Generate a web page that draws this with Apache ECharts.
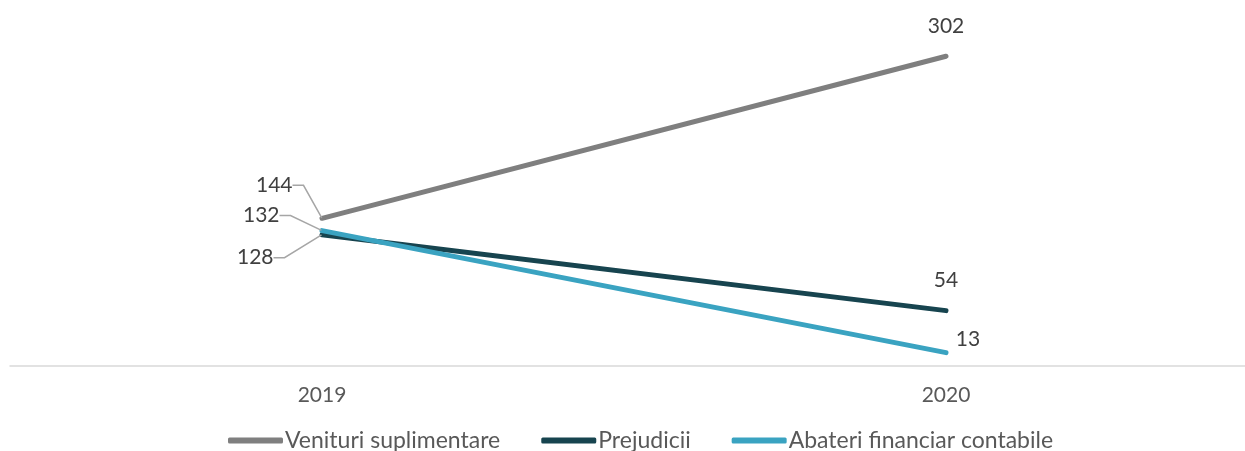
<!DOCTYPE html>
<html><head><meta charset="utf-8">
<script src="https://cdn.jsdelivr.net/npm/echarts@6/dist/echarts.min.js"></script>
<style>html,body{margin:0;padding:0;background:#fff}#c{width:1245px;height:451px}</style>
</head><body><div id="c"></div>
<script>
const categories = ['2019', '2020'];
const venituri = [144, 302];
const prejudicii = [128, 54];
const abateri = [132, 13];
const seriesNames = ['Venituri suplimentare', 'Prejudicii', 'Abateri financiar contabile'];
const colors = ['#7f7f7f', '#17444f', '#3aa3c1'];

const FONT = 'Lato';
// label offsets per series per point [dx, dy]
const offsets = [
  [[-24, -33], [0, 0]],
  [[-43, 23], [0, 0]],
  [[-37, -15], [22, 17]]
];
function mk(name, data, idx) {
  return {
    name: name, type: 'line',
    symbol: 'circle', symbolSize: 1, showSymbol: true,
    lineStyle: { width: 5, color: colors[idx], cap: 'round' },
    itemStyle: { color: colors[idx] },
    z: idx === 0 ? 2 : (idx === 1 ? 3 : 4),
    label: { show: true, color: '#404040', fontFamily: FONT, fontSize: 21 },
    labelLine: { show: false },
    data: data.map((v, i) => ({
      value: v,
      label: { position: i === 0 ? 'left' : 'top', distance: i === 0 ? 5 : 19 },
      labelLine: { show: i === 0, length2: 11, lineStyle: { color: '#a6a6a6', width: 1.5 } }
    })),
    labelLayout: function (p) {
      const o = offsets[idx][p.dataIndex];
      return { dx: o[0], dy: o[1] };
    }
  };
}
const chart = echarts.init(document.getElementById('c'), null, { renderer: 'canvas' });
chart.setOption({
  animation: false,
  color: colors,
  grid: { left: 10, width: 1248, top: 7, bottom: 85, containLabel: false, outerBoundsMode: 'none' },
  xAxis: {
    type: 'category', data: categories, boundaryGap: true,
    axisLine: { lineStyle: { color: '#d9d9d9', width: 1.5 } },
    axisTick: { show: false },
    axisLabel: { color: '#595959', fontFamily: FONT, fontSize: 21, margin: 19 }
  },
  yAxis: { type: 'value', min: 0, max: 350, show: false, splitLine: { show: false } },
  legend: {
    left: 223, top: 424, itemWidth: 55, itemHeight: 6, itemGap: 41,
    icon: 'roundRect',
    textStyle: { color: '#595959', fontFamily: FONT, fontSize: 23, padding: [0, 0, 0, -3] },
    data: seriesNames
  },
  series: [mk(seriesNames[0], venituri, 0), mk(seriesNames[1], prejudicii, 1), mk(seriesNames[2], abateri, 2)]
});
</script></body></html>
